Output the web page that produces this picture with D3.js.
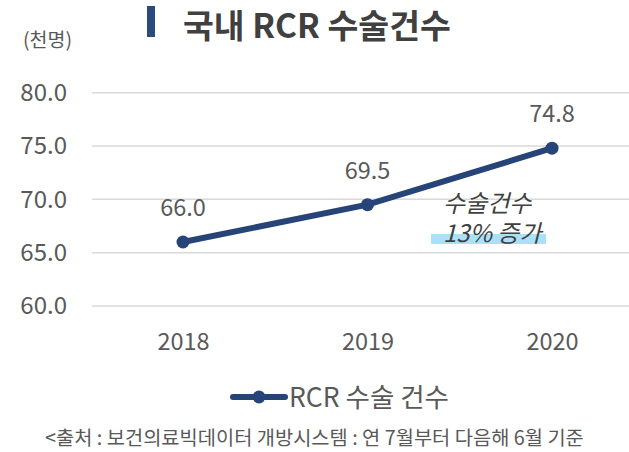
<!DOCTYPE html>
<html>
<head>
<meta charset="utf-8">
<script src="https://cdn.jsdelivr.net/npm/d3@7"></script>
<style>
  body { margin: 0; background: #fff; }
  text { font-family: "Noto Sans CJK KR", "Noto Sans", sans-serif; }
</style>
</head>
<body>
<svg id="chart"></svg>
<script>
const years = ['2018', '2019', '2020']
const values = [66.0, 69.5, 74.8]
const yTicks = [60, 65, 70, 75, 80]
const seriesName = 'RCR 수술 건수'
const noteLines = ['수술건수', '13% 증가']

const width = 629, height = 452
const svg = d3.select('#chart').attr('width', width).attr('height', height)

// scales
const x = d3.scalePoint().domain(years).range([183, 552])
const y = d3.scaleLinear().domain([60, 80]).range([306, 92.7])

const lineColor = '#264478'
const textColor = '#595959'

// title
svg.append('rect').attr('x', 147).attr('y', 6).attr('width', 8).attr('height', 31).attr('fill', '#2c4a7c')
svg.append('text').attr('x', 183).attr('y', 38)
  .attr('font-size', 33.5).attr('font-weight', 'bold').attr('fill', '#404040')
  .text('국내 RCR 수술건수')

svg.append('text').attr('x', 23).attr('y', 47)
  .attr('font-size', 19.5).attr('fill', textColor).text('(천명)')

// gridlines
svg.append('g').selectAll('line').data(yTicks).join('line')
  .attr('x1', 92).attr('x2', width)
  .attr('y1', d => y(d)).attr('y2', d => y(d))
  .attr('stroke', '#d9d9d9').attr('stroke-width', 1.5)

// y axis labels
const yAxis = svg.append('g').attr('transform', 'translate(67,0)')
  .call(d3.axisLeft(y).tickValues(yTicks).tickFormat(d3.format('.1f')).tickSize(0).tickPadding(0))
yAxis.select('.domain').remove()
yAxis.selectAll('text').attr('font-size', 24).attr('fill', textColor)
  .style('font-family', '"Noto Sans CJK KR", sans-serif')

// x axis labels
const xAxis = svg.append('g').attr('transform', 'translate(0,350)')
  .call(d3.axisBottom(x).tickSize(0).tickPadding(0))
xAxis.select('.domain').remove()
xAxis.selectAll('text').attr('dy', 0).attr('font-size', 23.5).attr('fill', textColor)
  .style('font-family', '"Noto Sans CJK KR", sans-serif')

// line
const data = years.map((yr, i) => ({year: yr, value: values[i]}))
svg.append('path').datum(data)
  .attr('fill', 'none').attr('stroke', lineColor).attr('stroke-width', 6)
  .attr('stroke-linecap', 'round')
  .attr('d', d3.line().x(d => x(d.year)).y(d => y(d.value)))

svg.append('g').selectAll('circle').data(data).join('circle')
  .attr('cx', d => x(d.year)).attr('cy', d => y(d.value)).attr('r', 6.5)
  .attr('fill', lineColor)

// data labels
svg.append('g').selectAll('text').data(data).join('text')
  .attr('x', d => x(d.year)).attr('y', d => y(d.value) - 26)
  .attr('text-anchor', 'middle').attr('font-size', 23.5).attr('fill', textColor)
  .text(d => d3.format('.1f')(d.value))

// annotation
svg.append('rect').attr('x', 431).attr('y', 234).attr('width', 115).attr('height', 10).attr('fill', '#a9e1f7')
svg.append('text').attr('y', 212)
  .attr('font-size', 24).attr('font-style', 'italic').attr('fill', '#404040')
  .selectAll('tspan').data(noteLines).join('tspan')
  .attr('x', 443).attr('dy', (d, i) => i ? 30 : 0)
  .text(d => d)

// legend
svg.append('line').attr('x1', 233).attr('x2', 285).attr('y1', 397).attr('y2', 397)
  .attr('stroke', lineColor).attr('stroke-width', 6).attr('stroke-linecap', 'round')
svg.append('circle').attr('cx', 259).attr('cy', 397).attr('r', 6.5).attr('fill', lineColor)
svg.append('text').attr('x', 289).attr('y', 407)
  .attr('font-size', 26.5).attr('fill', textColor).text(seriesName)

// source
svg.append('text').attr('x', 45).attr('y', 445)
  .attr('font-size', 19.8).attr('fill', textColor)
  .text('<출처 : 보건의료빅데이터 개방시스템 : 연 7월부터 다음해 6월 기준')
</script>
</body>
</html>
